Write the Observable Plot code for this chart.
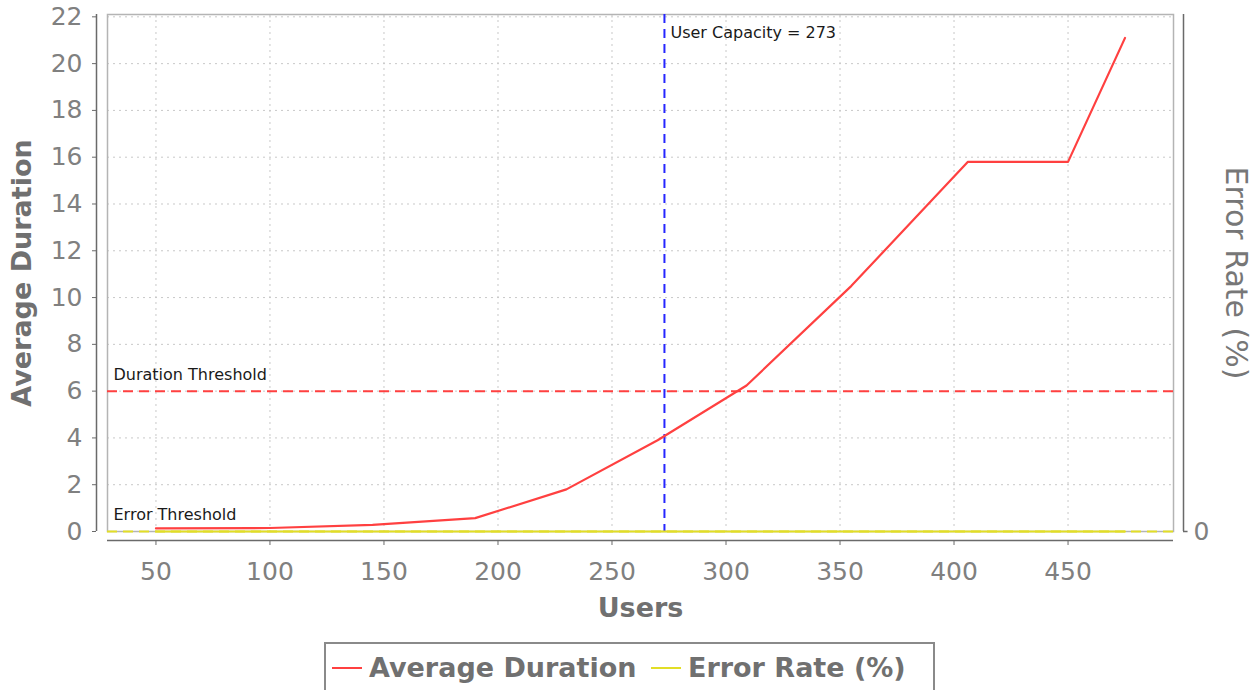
<!DOCTYPE html>
<html>
<head>
<meta charset="utf-8">
<script src="https://cdn.jsdelivr.net/npm/d3@7"></script>
<script src="https://cdn.jsdelivr.net/npm/@observablehq/plot@0.6"></script>
<style>
  html, body { margin: 0; padding: 0; background: #fff; overflow: hidden; }
  #wrap { position: relative; width: 1257px; height: 690px; }
  #legend {
    position: absolute; left: 324px; top: 642px; width: 611px; height: 64px;
    border: 2px solid #8a8a8a; box-sizing: border-box; background: #fff;
    font-family: "DejaVu Sans", sans-serif; font-weight: bold; font-size: 27px; color: #707070;
  }
  #legend .item { position: absolute; top: 8px; display: flex; align-items: center; white-space: nowrap; }
  #legend .swatch { display: inline-block; width: 30px; height: 2px; margin-right: 7px; }
</style>
</head>
<body>
<div id="wrap">
  <div id="chart"></div>
  <div id="legend"></div>
</div>
<script>
// ---- data ----
const users = [50, 100, 145, 190, 230, 270, 309, 355, 406, 450, 475];
const avgDuration = [0.13, 0.15, 0.28, 0.57, 1.8, 3.9, 6.24, 10.5, 15.8, 15.8, 21.1];
const errorRate = [0, 0, 0, 0, 0, 0, 0, 0, 0, 0, 0];
const durationThreshold = 6;
const errorThreshold = 0;
const userCapacity = 273;
const xTicks = [50, 100, 150, 200, 250, 300, 350, 400, 450];
const yTicks = [0, 2, 4, 6, 8, 10, 12, 14, 16, 18, 20, 22];
const rightTicks = [0];
const seriesNames = ["Average Duration", "Error Rate (%)"];
const seriesColors = ["#ff4040", "#e2de26"];

const rows = users.map((u, i) => ({users: u, duration: avgDuration[i], error: errorRate[i]}));
const xPad = (d3.max(users) - d3.min(users)) * 0.05;
const xDomain = [d3.min(users) - xPad, d3.max(users) + xPad];
const yDomain = [0, 22.1];
const axisGray = "#6a6a6a";
const tickGray = "#808080";
const labelGray = "#707070";
const annFont = "'DejaVu Sans', sans-serif";

const chart = Plot.plot({
  width: 1257,
  height: 640,
  marginLeft: 107,
  marginRight: 84,
  marginTop: 14,
  marginBottom: 109,
  x: {domain: xDomain},
  y: {domain: yDomain},
  style: {fontFamily: "DejaVu Sans, sans-serif", background: "white"},
  marks: [
    Plot.gridX(xTicks, {stroke: "#c8c8c8", strokeOpacity: 1, strokeDasharray: "2,4"}),
    Plot.gridY(yTicks.filter(d => d > 0), {stroke: "#c8c8c8", strokeOpacity: 1, strokeDasharray: "2,4"}),
    Plot.frame({stroke: "#b4b4b4", strokeWidth: 1.5}),
    // axes
    Plot.ruleX([xDomain[0]], {dx: -11, stroke: axisGray, strokeWidth: 1.5}),
    Plot.axisY(yTicks, {tickSize: 4, tickPadding: 10, dx: -11, fontSize: 25, stroke: axisGray, fill: tickGray, label: null}),
    Plot.ruleY([0], {dy: 9, stroke: axisGray, strokeWidth: 1.5}),
    Plot.axisX(xTicks, {tickSize: 5, tickPadding: 17, dy: 9, fontSize: 25, stroke: axisGray, fill: tickGray, label: null}),
    Plot.ruleX([xDomain[1]], {dx: 10, stroke: axisGray, strokeWidth: 1.5}),
    Plot.ruleY(rightTicks, {x1: () => xDomain[1], x2: () => xDomain[1] + 2, dx: 10, stroke: axisGray, strokeWidth: 1.5}),
    Plot.text(rightTicks, {x: () => xDomain[1], y: d => d, dx: 28, text: d => String(d), fontSize: 25, fill: tickGray}),
    // axis titles
    Plot.text(["Users"], {frameAnchor: "bottom", dy: 85, textAnchor: "middle", text: d => d, fontSize: 27, fontWeight: "bold", fill: labelGray}),
    Plot.text(["Average Duration"], {frameAnchor: "left", dx: -85, rotate: -90, textAnchor: "middle", text: d => d, fontSize: 27, fontWeight: "bold", fill: labelGray}),
    Plot.text(["Error Rate (%)"], {frameAnchor: "right", dx: 62, rotate: 90, textAnchor: "middle", text: d => d, fontSize: 30, fill: "#777"}),
    // threshold markers
    Plot.ruleY([errorThreshold], {stroke: seriesColors[1], strokeWidth: 2, strokeDasharray: "10,6"}),
    Plot.ruleY([durationThreshold], {stroke: seriesColors[0], strokeWidth: 2, strokeDasharray: "10,6"}),
    Plot.ruleX([userCapacity], {stroke: "#2626ff", strokeWidth: 2, strokeDasharray: "9,6"}),
    // series
    Plot.line(rows, {x: "users", y: "error", stroke: seriesColors[1], strokeWidth: 2}),
    Plot.line(rows, {x: "users", y: "duration", stroke: seriesColors[0], strokeWidth: 2.2}),
    // annotations
    Plot.text([durationThreshold], {y: d => d, frameAnchor: "left", dx: 6, dy: -16, textAnchor: "start", text: () => "Duration Threshold", fontSize: 16, fill: "#1a1a1a", fontFamily: annFont}),
    Plot.text([errorThreshold], {y: d => d, frameAnchor: "left", dx: 6, dy: -17, textAnchor: "start", text: () => "Error Threshold", fontSize: 16, fill: "#1a1a1a", fontFamily: annFont}),
    Plot.text([userCapacity], {x: d => d, frameAnchor: "top", dy: 12, dx: 6, textAnchor: "start", text: d => `User Capacity = ${d}`, fontSize: 16, fill: "#1a1a1a", fontFamily: annFont})
  ]
});
document.getElementById("chart").appendChild(chart);

const legend = document.getElementById("legend");
const lefts = [6, 325];
seriesNames.forEach((name, i) => {
  const item = document.createElement("div");
  item.className = "item";
  item.style.left = lefts[i] + "px";
  const sw = document.createElement("span");
  sw.className = "swatch";
  sw.style.background = seriesColors[i];
  const t = document.createElement("span");
  t.textContent = name;
  item.appendChild(sw);
  item.appendChild(t);
  legend.appendChild(item);
});
</script>
</body>
</html>
